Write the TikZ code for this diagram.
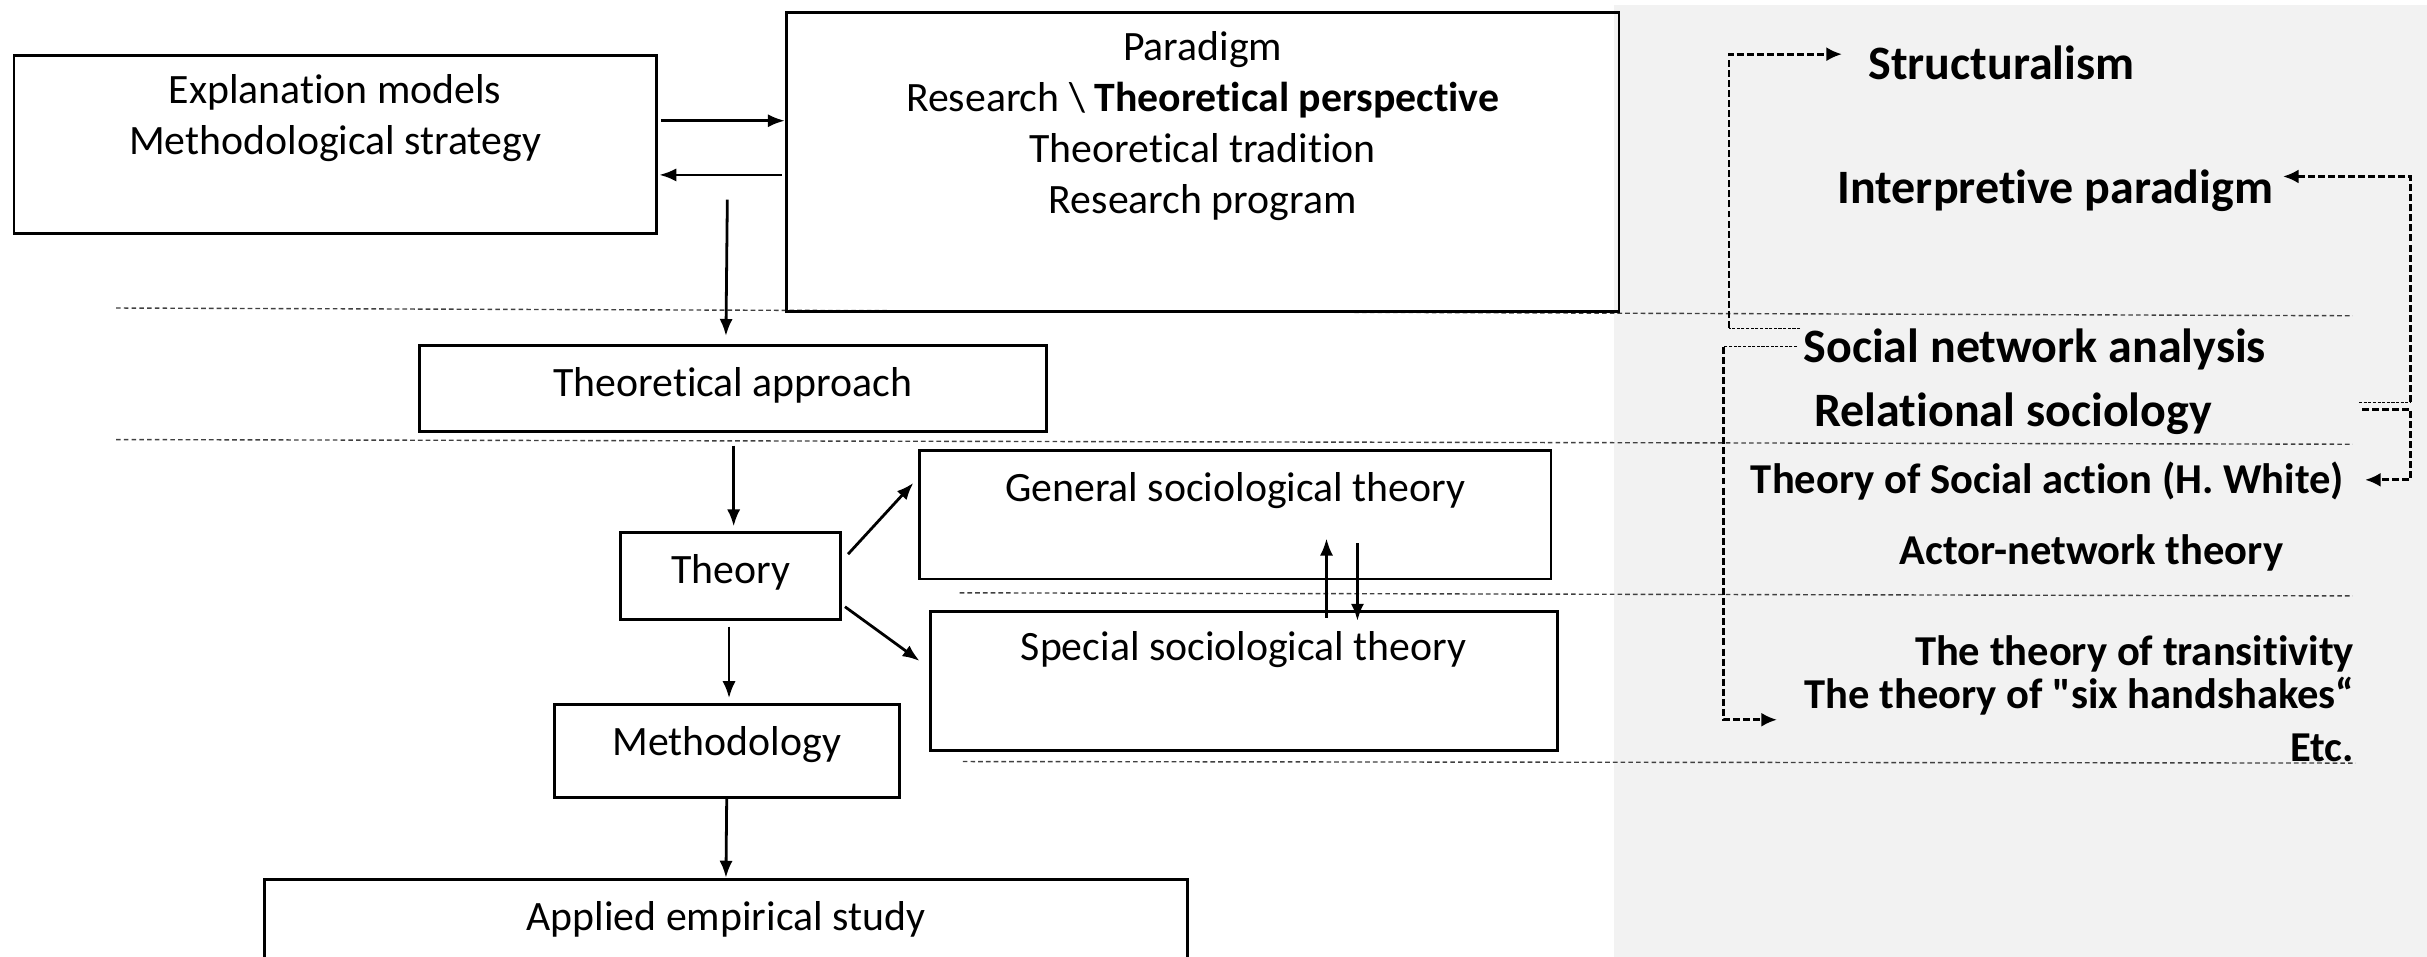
\documentclass[tikz,border=0pt]{standalone}
\usepackage{fontspec}
\setmainfont{Carlito}[Ligatures={NoCommon,TeXOff}]
\usetikzlibrary{arrows.meta,calc}
\begin{document}
\begin{tikzpicture}[x=1pt,y=-1pt,
  box/.style={draw=black,line width=1.8pt,inner sep=0pt,rectangle},
  txt/.style={font=\fontsize{27}{33}\selectfont,align=center,inner sep=0pt},
  btxt/.style={font=\fontsize{27.5}{33}\selectfont\bfseries,inner sep=0pt},
  bbig/.style={font=\fontsize{31}{37}\selectfont\bfseries,inner sep=0pt},
  arr/.style={-{Latex[length=11pt,width=8.5pt]},line width=1.8pt},
  dconn/.style={-{Latex[length=10pt,width=9pt]},line width=1.8pt,dash pattern=on 4.5pt off 2pt},
  thinseg/.style={line width=0.8pt,dash pattern=on 2pt off 1pt},
  divider/.style={draw=black!75,line width=0.9pt,dash pattern=on 3pt off 2pt}]
\clip (0,0) rectangle (1568,618);
\fill[white] (0,0) rectangle (1568,618);
\fill[black!5] (1043,3) rectangle (1568,618);

% dividers
\draw[divider] (75,199) -- (1520,204);
\draw[divider] (75,284) -- (1520,287);
\draw[divider] (620,383) -- (1520,385);
\draw[divider] (622,492) -- (1522,493);

% boxes
\node[box,minimum width=415pt,minimum height=115pt] (expl) at (216.5,93.5) {};
\node[box,minimum width=538pt,minimum height=193pt] (para) at (777,104.5) {};
\node[box,minimum width=405pt,minimum height=56pt] (tap) at (473.5,251) {};
\node[box,minimum width=142pt,minimum height=56pt] (theory) at (472,372) {};
\node[box,minimum width=408pt,minimum height=83pt] (gen) at (798,332.5) {};
\node[box,minimum width=405pt,minimum height=90pt] (spec) at (803.5,440) {};
\node[box,minimum width=223pt,minimum height=60pt] (meth) at (469.5,485) {};
\node[box,minimum width=596pt,minimum height=64pt] (appl) at (469,600) {};

% box texts
\node[txt] (explT) at (216.5,76.5) {Explanation models\\Methodological strategy};
\node[txt] (paraT) at (777,81.5) {Paradigm\\Research \textbackslash\ \textbf{Theoretical perspective}\\Theoretical tradition\\Research program};
\node[txt,anchor=base] (tapT) at (473.5,256) {Theoretical approach};
\node[txt,anchor=base] (theoryT) at (472,377) {Theory};
\node[txt,anchor=base] (genT) at (798,324) {General sociological theory};
\node[txt,anchor=base] (specT) at (803.5,427) {Special sociological theory};
\node[txt,anchor=base] (methT) at (469.5,488) {Methodology};
\node[txt,anchor=base] (applT) at (469,601) {Applied empirical study};

% main arrows
\draw[arr] ($(expl.east)+(2,-15.5)$) -- ($(para.west)+(0,-26.5)$);
\draw[arr] ($(para.west)+(-2,8.5)$) -- ($(expl.east)+(1,19.5)$);
\draw[arr] ($(expl.east)+(45,35.5)$) -- ($(tap.north)+(-4.5,-5)$);
\draw[arr] ($(tap.south)+(0.5,8)$) -- ($(theory.north)+(2,-3)$);
\draw[arr] ($(theory.east)+(4,-14)$) -- ($(gen.west)+(-3,-20.5)$);
\draw[arr] ($(theory.east)+(2,20)$) -- ($(spec.west)+(-6,-13)$);
\draw[arr] ($(spec.north)+(53.5,5)$) -- ($(gen.south)+(59,-27)$);
\draw[arr] ($(gen.south)+(79,-24)$) -- ($(spec.north)+(73.5,7)$);
\draw[arr] ($(theory.south)+(-1,4)$) -- ($(meth.north)+(1.5,-3)$);
\draw[arr] (meth.south) -- (appl.north);

% right side texts
\node[bbig,anchor=base west] (struct) at (1207,51.5) {Structuralism};
\node[bbig,anchor=base west] (interp) at (1187,131.5) {Interpretive paradigm};
\node[bbig,anchor=base west] (sna) at (1165,234.5) {Social network analysis};
\node[bbig,anchor=base west] (rel) at (1172,275.5) {Relational sociology};
\node[btxt,anchor=base west] (tsa) at (1131,319) {Theory of Social action (H. White)};
\node[btxt,anchor=base west] (ant) at (1227,365) {Actor-network theory};
\node[btxt,anchor=base east] (trans) at (1521,430) {The theory of transitivity};
\node[btxt,anchor=base east] (six) at (1521,458) {The theory of "six handshakes“};
\node[btxt,anchor=base east] (etc) at (1521,492) {Etc.};

% corners
\coordinate (c1) at (1117,212);
\coordinate (c2) at (1113.5,224);
\coordinate (c3) at (1557.5,260);
\coordinate (c4) at (1557.5,310);

% dashed connectors
\draw[thinseg] ($(sna.base west)+(-2,-22.5)$) -- (c1);
\draw[dconn] (c1) |- ($(struct.base west)+(-17,-16.5)$);
\draw[thinseg] ($(sna.base west)+(-4,-10.5)$) -- (c2);
\draw[dconn] (c2) |- ($(six.base east)+(-373,7)$);
\draw[thinseg] ($(rel.base west)+(352,-15.5)$) -- (c3);
\draw[dconn] (c3) |- ($(interp.base west)+(288,-17.5)$);
\draw[dconn] ($(rel.base west)+(354,-11)$) -| (c4) -- ($(tsa.base west)+(397,-9)$);
\end{tikzpicture}
\end{document}
